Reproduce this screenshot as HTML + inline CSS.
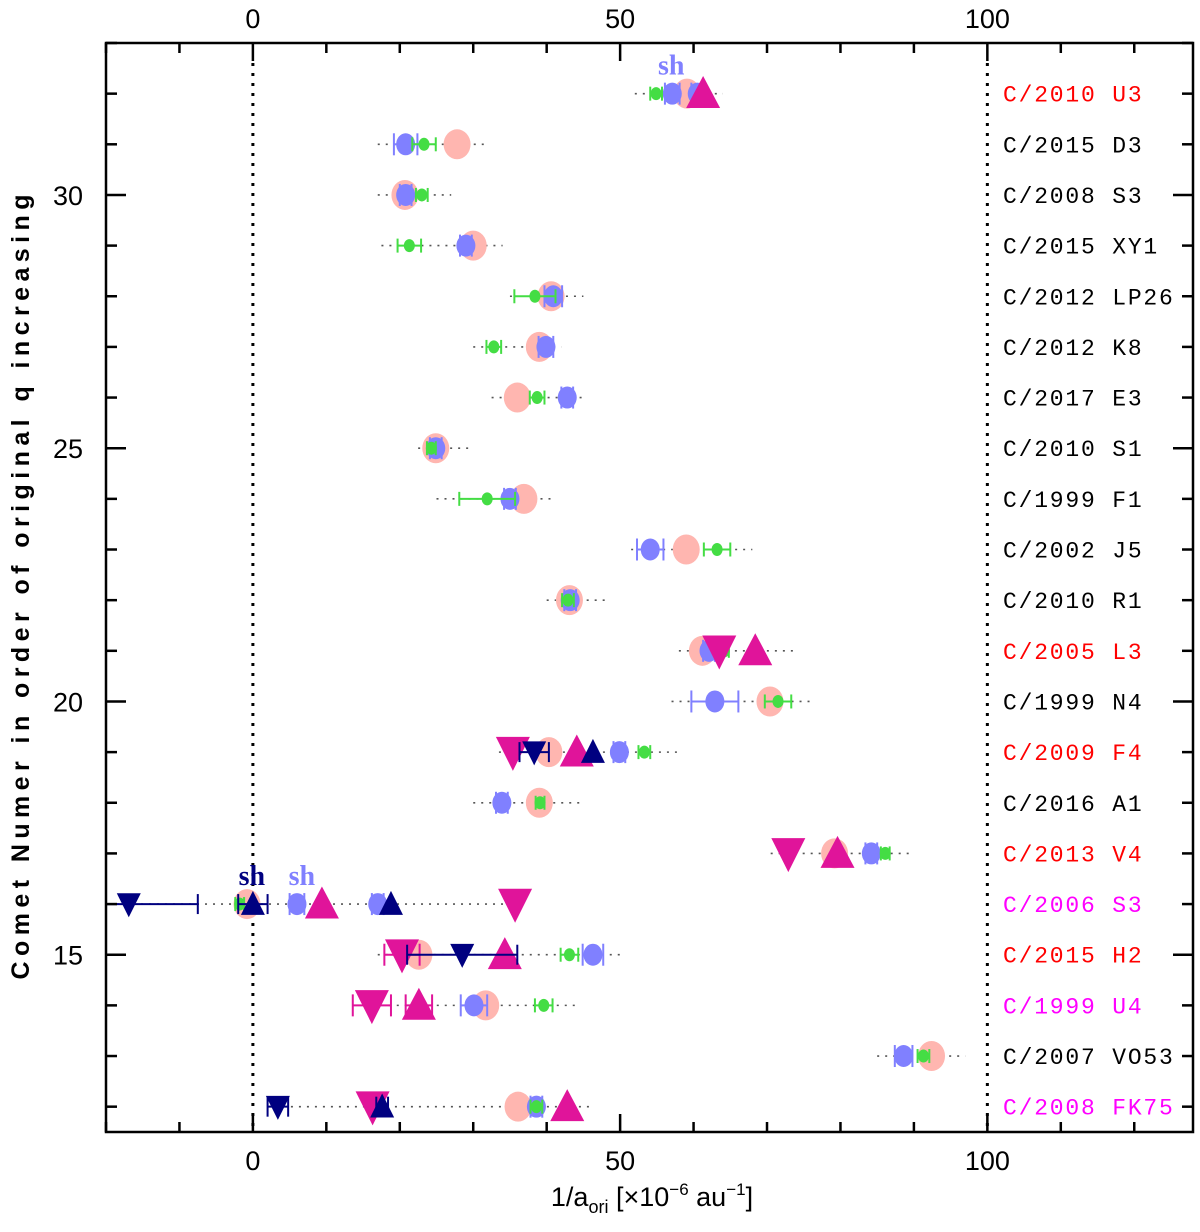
<!DOCTYPE html>
<html><head><meta charset="utf-8"><style>
body{margin:0;background:#fff;}
</style></head><body>
<svg id="chart" width="1200" height="1227" viewBox="0 0 1200 1227" xmlns="http://www.w3.org/2000/svg" font-family="Liberation Sans, sans-serif"><defs><clipPath id="pc"><rect x="106" y="43" width="1087" height="1089"/></clipPath></defs></svg>
<script>
const comets=["C/2008 FK75","C/2007 VO53","C/1999 U4","C/2015 H2","C/2006 S3","C/2013 V4","C/2016 A1","C/2009 F4","C/1999 N4","C/2005 L3","C/2010 R1","C/2002 J5","C/1999 F1","C/2010 S1","C/2017 E3","C/2012 K8","C/2012 LP26","C/2015 XY1","C/2008 S3","C/2015 D3","C/2010 U3"];
const cometRows=[12,13,14,15,16,17,18,19,20,21,22,23,24,25,26,27,28,29,30,31,32];
const cometColors=["#ff00ff","#000","#ff00ff","#ff0000","#ff00ff","#ff0000","#000","#ff0000","#000","#ff0000","#000","#000","#000","#000","#000","#000","#000","#000","#000","#000","#ff0000"];
const rangeLo=[3.0,85.0,18.5,17.0,-18.5,70.5,30.0,33.5,57.0,58.0,40.0,51.5,25.0,22.5,32.5,30.0,35.0,17.5,17.0,17.0,52.0];
const rangeHi=[46.0,97.0,44.0,50.0,36.0,90.0,45.0,58.0,76.0,74.0,48.0,68.0,41.0,30.0,45.0,42.0,45.0,34.0,27.0,32.0,64.0];
const pinkRows=[12,13,14,15,16,17,18,19,20,21,22,23,24,25,26,27,28,29,30,31,32];
const pinkX=[36.1,92.4,31.7,22.6,-0.8,79.2,39.0,40.3,70.4,61.2,43.1,59.0,36.9,24.9,36.0,39.0,40.6,30.0,20.7,27.8,59.1];
const blueRows=[12,13,14,15,16,16,17,18,19,20,21,22,23,24,25,26,27,28,29,30,31,32,32];
const blueX=[38.6,88.6,30.1,46.3,6.0,17.0,84.2,33.9,49.9,62.9,62.1,43.2,54.1,35.0,24.9,42.8,39.9,40.9,29.0,20.8,20.8,57.1,60.5];
const blueErr=[0.8,1.2,1.8,1.4,1.0,0.8,0.8,0.8,0.8,3.2,0.8,0.8,1.8,0.8,0.8,0.8,1.0,1.2,0.8,0.8,1.6,1.0,0.8];
const greenRows=[12,13,14,15,16,17,18,19,20,21,22,23,24,25,26,27,28,29,30,31,32];
const greenX=[38.6,91.3,39.6,43.1,-1.8,86.1,39.1,53.3,71.5,64.2,42.9,63.2,31.9,24.3,38.7,32.8,38.4,21.3,23.0,23.3,54.9];
const greenErr=[0.8,0.8,1.2,1.2,0.6,0.6,0.6,0.8,1.8,0.6,0.8,1.8,3.8,0.6,1.0,1.0,2.8,1.6,0.8,1.6,0.8];
const magUpRows=[12,14,15,16,17,19,21,32];
const magUpX=[42.8,22.6,34.3,9.4,79.6,44.1,68.4,61.3];
const magUpErr=[0,1.8,0,0,0,0,0,0];
const magDnRows=[12,14,15,16,17,19,21];
const magDnX=[16.3,16.2,20.3,35.7,72.9,35.4,63.5];
const magDnErr=[0,2.6,2.4,0,0,0,0];
const navyUpRows=[12,16,16,19];
const navyUpX=[17.6,0.0,18.8,46.3];
const navyUpErr=[0.8,2.0,0,0];
const navyDnRows=[12,15,16,19];
const navyDnX=[3.4,28.5,-16.9,38.3];
const navyDnErr=[1.4,7.5,9.4,2.0];
const shLabels=[{row:32,x:57.1,c:"#8080ff"},{row:16,x:0,c:"#000080"},{row:16,x:6.8,c:"#8080ff"}];
const xTicks=[0,50,100];
const yTicks=[15,20,25,30];

const L=106,R=1193,T=43,B=1132,XMIN=-20,XMAX=128,YMIN=11.5,YMAX=33;
const sx=v=>L+(v-XMIN)/(XMAX-XMIN)*(R-L);
const sy=v=>B-(v-YMIN)/(YMAX-YMIN)*(B-T);
const svg=document.getElementById('chart');
const NS='http://www.w3.org/2000/svg';
function mk(tag,at,parent){const e=document.createElementNS(NS,tag);for(const k in at)e.setAttribute(k,at[k]);(parent||svg).appendChild(e);return e;}
function grp(name,clip){const g=mk('g',clip?{'clip-path':'url(#pc)'}:{});return g;}

const refs=grp('reference-lines');
[0,100].forEach(v=>{const l=mk('line',{x1:sx(v),x2:sx(v),y1:T+20,y2:B,stroke:'#000','stroke-width':3,'stroke-dasharray':'3 7'},refs);

});
const rg=grp('range-lines',true);
cometRows.forEach((r,i)=>{const l=mk('line',{x1:sx(rangeLo[i]),x2:sx(rangeHi[i]),y1:sy(r),y2:sy(r),stroke:'#555','stroke-width':1.6,'stroke-dasharray':'2 6'},rg);

});

function errbar(g,x,y,e,col,h){if(!e)return;const x1=sx(x-e),x2=sx(x+e);
mk('line',{x1:x1,x2:x2,y1:y,y2:y,stroke:col,'stroke-width':2},g);
mk('line',{x1:x1,x2:x1,y1:y-h,y2:y+h,stroke:col,'stroke-width':2},g);
mk('line',{x1:x2,x2:x2,y1:y-h,y2:y+h,stroke:col,'stroke-width':2},g);}

const pg=grp('series-pink',true);
pinkRows.forEach((r,i)=>{const e=mk('ellipse',{cx:sx(pinkX[i]),cy:sy(r),rx:13.5,ry:15,fill:'#ffb6b0'},pg);

});
const bg=grp('series-blue',true);
blueRows.forEach((r,i)=>{errbar(bg,blueX[i],sy(r),blueErr[i],'#8080ff',11);const e=mk('ellipse',{cx:sx(blueX[i]),cy:sy(r),rx:9.5,ry:11,fill:'#8080ff'},bg);

});
const gg=grp('series-green',true);
greenRows.forEach((r,i)=>{errbar(gg,greenX[i],sy(r),greenErr[i],'#44dd44',7);const e=mk('ellipse',{cx:sx(greenX[i]),cy:sy(r),rx:5.5,ry:6.5,fill:'#44dd44'},gg);

});

function tri(g,x,y,w,h,up,col){const p=up?`${x-w/2},${y+h*0.45} ${x+w/2},${y+h*0.45} ${x},${y-h*0.55}`:`${x-w/2},${y-h*0.45} ${x+w/2},${y-h*0.45} ${x},${y+h*0.55}`;return mk('polygon',{points:p,fill:col},g);}
const mu=grp('series-magenta-up',true);
magUpRows.forEach((r,i)=>{errbar(mu,magUpX[i],sy(r),magUpErr[i],'#e0149a',11);const e=tri(mu,sx(magUpX[i]),sy(r),34,32,true,'#e0149a');

});
const md=grp('series-magenta-down',true);
magDnRows.forEach((r,i)=>{errbar(md,magDnX[i],sy(r),magDnErr[i],'#e0149a',11);const e=tri(md,sx(magDnX[i]),sy(r),34,34,false,'#e0149a');

});
const nu=grp('series-navy-up',true);
navyUpRows.forEach((r,i)=>{errbar(nu,navyUpX[i],sy(r),navyUpErr[i],'#000080',10);const e=tri(nu,sx(navyUpX[i]),sy(r),24,24,true,'#000080');

});
const nd=grp('series-navy-down',true);
navyDnRows.forEach((r,i)=>{errbar(nd,navyDnX[i],sy(r),navyDnErr[i],'#000080',10);const e=tri(nd,sx(navyDnX[i]),sy(r),24,24,false,'#000080');

});

shLabels.forEach(s=>{const t=mk('text',{x:sx(s.x)-1,y:sy(s.row)-19,fill:s.c,'font-size':28,'font-weight':'bold','text-anchor':'middle','font-family':'Liberation Serif, serif'});t.textContent='sh';

});

const lg=grp('comet-labels');
cometRows.forEach((r,i)=>{const t=mk('text',{x:1003,y:sy(r)+8,fill:cometColors[i],'font-size':23,'letter-spacing':'1.8','font-family':'Liberation Mono, monospace'},lg);t.textContent=comets[i];

});

const ax=grp('axes');
mk('rect',{x:L,y:T,width:R-L,height:B-T,fill:'none',stroke:'#000','stroke-width':2.5},ax);
for(let v=-20;v<=XMAX;v+=10){const len=(v%50===0)?18:10;
mk('line',{x1:sx(v),x2:sx(v),y1:B,y2:B-len,stroke:'#000','stroke-width':2.5},ax);
mk('line',{x1:sx(v),x2:sx(v),y1:T,y2:T+len,stroke:'#000','stroke-width':2.5},ax);}
for(let v=12;v<=33;v++){const len=(v%5===0)?20:11;
mk('line',{x1:L,x2:L+len,y1:sy(v),y2:sy(v),stroke:'#000','stroke-width':2.5},ax);
mk('line',{x1:R,x2:R-len,y1:sy(v),y2:sy(v),stroke:'#000','stroke-width':2.5},ax);}
xTicks.forEach(v=>{[[B+38,'x-tick-label'],[T-15,'top-tick-label']].forEach(([y,n])=>{const t=mk('text',{x:sx(v),y:y,'font-size':27,'text-anchor':'middle'},ax);t.textContent=v;

});});
yTicks.forEach(v=>{const t=mk('text',{x:68,y:sy(v)+10,'font-size':27,'text-anchor':'middle'},ax);t.textContent=v;

});
const yt=mk('text',{x:0,y:0,'font-size':25,'font-weight':'bold','text-anchor':'middle',textLength:785,lengthAdjust:'spacing',transform:`translate(29,587) rotate(-90)`},ax);
yt.textContent='Comet Numer in order of original q increasing';


const xt=mk('text',{x:652,y:1206,'font-size':27,'text-anchor':'middle'},ax);
xt.innerHTML='1/a<tspan font-size="18" dy="7">ori</tspan><tspan dy="-7"> [×10</tspan><tspan font-size="17" dy="-11">−6</tspan><tspan dy="11"> au</tspan><tspan font-size="17" dy="-11">−1</tspan><tspan dy="11">]</tspan>';


</script>
</body></html>
